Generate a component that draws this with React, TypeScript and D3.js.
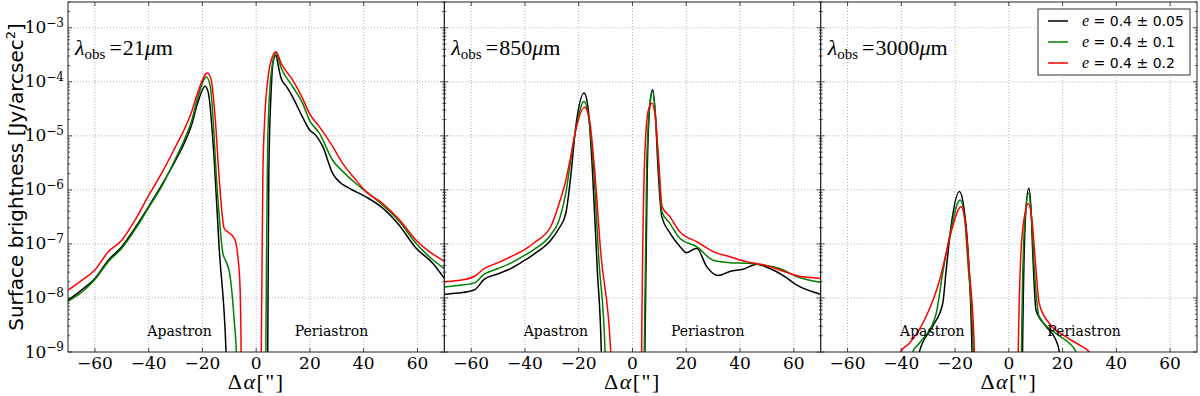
import * as d3 from "d3";

type Pt = [number, number];

// axis ticks and labels
const xTickValues = [-60, -40, -20, 0, 20, 40, 60];
const yDecades = [-9, -8, -7, -6, -5, -4, -3];
const wavelengths = ["21", "850", "3000"];
const spreadLabels = ["0.05", "0.1", "0.2"];
const lineColors = ["#000000", "#008000", "#ff0000"];
const regionLabels: [string, number][] = [["Apastron", -28.5], ["Periastron", 28]];

// lambda = 21 micron
const sb21Black: Pt[] = [
  [-70, 9.1e-9], [-65, 1.4e-8], [-60, 2.3e-8], [-55, 5.0e-8], [-50, 8.9e-8], [-45, 2.0e-7],
  [-40, 4.9e-7], [-35, 1.26e-6], [-30, 3.5e-6], [-26.8, 7.2e-6], [-24, 1.6e-5], [-21.8, 4.0e-5],
  [-19, 8.3e-5], [-17.8, 6.3e-5], [-15.6, 3.5e-6], [-13.8, 8.9e-8], [-11.2, 1e-9], [-10, 1e-11],
  [3.9, 1e-11], [4.3, 1e-9], [4.7, 2.0e-6], [5.6, 7.1e-5], [6.4, 2.5e-4], [7.4, 3.1e-4],
  [8.2, 2.0e-4], [9.3, 1.15e-4], [11.5, 7.9e-5], [13.6, 5.2e-5], [17.3, 2.2e-5], [19.8, 1.3e-5],
  [22.2, 1.02e-5], [24.8, 6.3e-6], [28.5, 2.0e-6], [31, 1.4e-6], [34.7, 1.07e-6], [40.9, 7.4e-7],
  [47.1, 4.6e-7], [53.3, 2.2e-7], [59.5, 8.3e-8], [65.7, 4.4e-8], [70, 2.3e-8],
];
const sb21Green: Pt[] = [
  [-70, 8.7e-9], [-65, 1.26e-8], [-60, 2.2e-8], [-55, 4.7e-8], [-50, 8.3e-8], [-45, 1.86e-7],
  [-40, 4.7e-7], [-35, 1.2e-6], [-30, 3.8e-6], [-26.8, 8.3e-6], [-24, 1.9e-5], [-21.8, 5.0e-5],
  [-18.5, 1.23e-4], [-17, 7.9e-5], [-14.4, 8.7e-7], [-12.4, 6.8e-8], [-11, 4.5e-8], [-9.9, 2.9e-8],
  [-8.1, 3.5e-9], [-7.4, 1e-9], [-7.1, 1e-11],
  [3.3, 1e-11], [3.6, 1e-9], [3.9, 1.17e-7], [4.3, 8.3e-6], [5.6, 1.45e-4], [7.4, 3.4e-4],
  [9.3, 1.8e-4], [13.6, 8.1e-5], [17.3, 4.0e-5], [19.8, 1.95e-5], [23.5, 1.12e-5], [28.5, 3.5e-6],
  [32.2, 2.2e-6], [37.2, 1.3e-6], [40.9, 9.3e-7], [47.1, 5.2e-7], [53.3, 2.6e-7], [59.5, 1.02e-7],
  [64.4, 5.8e-8], [70, 3.5e-8],
];
const sb21Red: Pt[] = [
  [-70, 1.4e-8], [-65, 2.1e-8], [-60, 3.3e-8], [-55, 7.2e-8], [-50, 1.17e-7], [-45, 2.8e-7],
  [-40, 7.9e-7], [-35, 2.1e-6], [-30, 6.3e-6], [-26.8, 1.3e-5], [-24, 2.8e-5], [-21.8, 6.2e-5],
  [-18.1, 1.45e-4], [-16.8, 1.12e-4], [-15.2, 2.0e-5], [-13.8, 1.74e-6], [-11.9, 1.95e-7],
  [-10.5, 1.66e-7], [-8.1, 1.26e-7], [-6.8, 5.8e-8], [-6.0, 1.6e-8], [-5.6, 1e-9], [-5.3, 1e-11],
  [1.6, 1e-11], [1.9, 1e-9], [2.5, 2.0e-6], [3.1, 1.7e-5], [4.3, 1.07e-4], [5.6, 2.5e-4],
  [7.4, 3.6e-4], [9.3, 2.2e-4], [13.6, 1.07e-4], [17.3, 4.9e-5], [19.8, 2.6e-5], [23.5, 1.48e-5],
  [28.5, 6.3e-6], [32.2, 3.1e-6], [37.2, 1.5e-6], [40.9, 9.3e-7], [47.1, 5.6e-7], [53.3, 2.8e-7],
  [59.5, 1.17e-7], [64.4, 7.2e-8], [70, 4.8e-8],
];

// lambda = 850 micron
const sb850Black: Pt[] = [
  [-70, 1.17e-8], [-65, 1.23e-8], [-58.9, 1.4e-8], [-55.2, 2.2e-8], [-50, 2.8e-8], [-45.3, 3.5e-8],
  [-40, 5.0e-8], [-36.6, 6.5e-8], [-30.4, 1.17e-7], [-27.3, 1.95e-7], [-24.8, 3.7e-7],
  [-23, 1.74e-6], [-21.1, 1.48e-5], [-18, 6.2e-5], [-16.5, 3.2e-5], [-14.9, 2.3e-6],
  [-13.1, 3.3e-8], [-11.6, 1e-9], [-11, 1e-11],
  [4.2, 1e-11], [4.6, 1e-9], [5.5, 2.3e-6], [6.5, 4.0e-5], [7.5, 7.2e-5], [8.5, 2.5e-5],
  [9.5, 2.5e-6], [10.9, 3.2e-7], [13.9, 1.6e-7], [17.7, 8.9e-8], [20.1, 6.9e-8], [23.9, 8.3e-8],
  [27.6, 3.8e-8], [31.9, 2.6e-8], [36.2, 3.1e-8], [41.2, 3.4e-8], [46.2, 4.2e-8], [51.1, 3.5e-8],
  [56.1, 2.6e-8], [61, 1.74e-8], [70, 1.17e-8],
];
const sb850Green: Pt[] = [
  [-70, 1.6e-8], [-65, 1.7e-8], [-58.9, 1.9e-8], [-55.2, 2.75e-8], [-50, 3.5e-8], [-45.3, 4.4e-8],
  [-40, 6.2e-8], [-36.6, 7.9e-8], [-30.4, 1.48e-7], [-27.3, 2.75e-7], [-24.8, 8.7e-7],
  [-23, 3.5e-6], [-21.1, 1.3e-5], [-18.1, 4.3e-5], [-16.5, 2.5e-5], [-14.5, 2.5e-6],
  [-12.5, 5.0e-8], [-10.2, 1e-9], [-9.7, 1e-11],
  [4.0, 1e-11], [4.4, 1e-9], [5.3, 3.2e-6], [6.5, 4.0e-5], [7.5, 6.6e-5], [8.5, 2.5e-5],
  [9.6, 3.2e-6], [10.9, 4.0e-7], [13.9, 2.4e-7], [17.7, 1.26e-7], [23.9, 8.9e-8], [30, 5.0e-8],
  [36.2, 4.5e-8], [42.5, 4.4e-8], [48.6, 4.1e-8], [54.8, 3.5e-8], [61, 2.5e-8], [70, 1.95e-8],
];
const sb850Red: Pt[] = [
  [-70, 2.0e-8], [-65, 2.1e-8], [-58.9, 2.5e-8], [-55.2, 3.5e-8], [-50, 4.5e-8], [-45.3, 5.8e-8],
  [-40, 7.9e-8], [-36.6, 1.05e-7], [-30.4, 2.1e-7], [-27.3, 5.6e-7], [-24.8, 1.5e-6],
  [-23, 4.1e-6], [-21.1, 1.3e-5], [-17.8, 3.4e-5], [-16, 2.0e-5], [-14.3, 3.1e-6],
  [-11.8, 6.8e-8], [-8.1, 1e-9], [-7.8, 1e-11],
  [3.1, 1e-11], [3.4, 1e-9], [4.6, 4.8e-6], [5.9, 3.0e-5], [7.2, 4.0e-5], [8.5, 2.2e-5],
  [9.8, 3.2e-6], [11, 4.9e-7], [13.9, 3.2e-7], [17.7, 1.66e-7], [23.9, 1.1e-7], [30, 7.2e-8],
  [36.2, 5.8e-8], [42.5, 4.7e-8], [48.6, 4.1e-8], [54.8, 3.3e-8], [61, 2.6e-8], [70, 2.3e-8],
];

// lambda = 3000 micron
const sb3000Black: Pt[] = [
  [-35, 1e-11], [-33.3, 1e-9], [-28.3, 3.0e-9], [-24.6, 7.9e-9], [-23.3, 3.3e-8], [-21.5, 2.1e-7],
  [-18.4, 9.3e-7], [-16.8, 5.0e-7], [-15.3, 8.9e-8], [-13.7, 1e-9], [-13, 1e-11],
  [4.7, 1e-11], [5.1, 1e-9], [6.2, 3.2e-7], [7.4, 1.07e-6], [8.3, 4.0e-7], [8.9, 6.8e-8],
  [10.1, 6.0e-9], [13.8, 3.0e-9], [17.5, 1.66e-9], [18.8, 1e-9], [19.5, 1e-11],
];
const sb3000Green: Pt[] = [
  [-38, 1e-11], [-35.8, 1e-9], [-33.3, 1.45e-9], [-27.1, 5.0e-9], [-24.6, 2.9e-8], [-22.1, 1.35e-7],
  [-18.1, 6.5e-7], [-16.5, 3.2e-7], [-15.3, 5.0e-8], [-13.2, 1e-9], [-12.5, 1e-11],
  [4.3, 1e-11], [4.7, 1e-9], [5.9, 2.5e-7], [7.4, 8.7e-7], [8.4, 3.2e-7], [9.5, 3.3e-8],
  [11.3, 4.5e-9], [17.5, 2.2e-9], [22.5, 1.45e-9], [25, 1e-9], [26, 1e-11],
];
const sb3000Red: Pt[] = [
  [-42, 1e-11], [-40.3, 1e-9], [-37, 1.45e-9], [-30.8, 4.5e-9], [-25.8, 2.1e-8], [-23.3, 6.8e-8],
  [-20.9, 2.1e-7], [-17.8, 4.9e-7], [-16.2, 2.5e-7], [-14.7, 3.3e-8], [-12.8, 1e-9], [-12, 1e-11],
  [3.0, 1e-11], [3.5, 1e-9], [4.5, 6.8e-8], [5.8, 3.2e-7], [7.3, 5.6e-7], [8.7, 2.5e-7],
  [10.1, 3.3e-8], [11.3, 7.9e-9], [15, 3.4e-9], [21.3, 1.9e-9], [26.2, 1.35e-9], [29.9, 1e-9],
  [31, 1e-11],
];

const panels = [
  [sb21Black, sb21Green, sb21Red],
  [sb850Black, sb850Green, sb850Red],
  [sb3000Black, sb3000Green, sb3000Red],
];

const SERIF = "'DejaVu Serif', serif";
const SANS = "'DejaVu Sans', sans-serif";
const MATH = "'Liberation Serif', 'DejaVu Serif', serif";

export default function App() {
  const width = 1200;
  const height = 396;
  const margin = { top: 2, right: 3, bottom: 44, left: 68 };
  const panelW = (width - margin.left - margin.right) / 3;
  const y0 = height - margin.bottom;

  const y = d3.scaleLog().domain([1e-9, 3e-3]).range([y0, margin.top]);
  const majors = yDecades.map((e) => Math.pow(10, e));
  const minors: number[] = [];
  yDecades.forEach((e) => {
    for (let k = 2; k <= 9; k++) {
      const v = k * Math.pow(10, e);
      if (v <= 3e-3) minors.push(v);
    }
  });

  return (
    <svg
      width={width}
      height={height}
      style={{ position: "absolute", left: 0, top: 0, background: "#fff" }}
    >
      <defs>
        {panels.map((_, i) => (
          <clipPath id={`clip${i}`} key={i}>
            <rect x={margin.left + i * panelW} y={margin.top} width={panelW} height={y0 - margin.top} />
          </clipPath>
        ))}
      </defs>

      {panels.map((series, i) => {
        const x0 = margin.left + i * panelW;
        const x = d3.scaleLinear().domain([-70, 70]).range([x0, x0 + panelW]);
        const line = d3
          .line<Pt>()
          .x((d) => x(d[0]))
          .y((d) => y(d[1]))
          .curve(d3.curveMonotoneX);
        return (
          <g key={i}>
            {/* grid */}
            <g stroke="#9a9a9a" strokeWidth={0.8} strokeDasharray="1,2">
              {xTickValues.map((t) => (
                <line key={`gx${t}`} x1={x(t)} x2={x(t)} y1={margin.top} y2={y0} />
              ))}
              {majors.slice(1).map((v) => (
                <line key={`gy${v}`} x1={x0} x2={x0 + panelW} y1={y(v)} y2={y(v)} />
              ))}
            </g>

            {/* curves */}
            <g clipPath={`url(#clip${i})`} fill="none" strokeWidth={1.5}>
              {series.map((s, j) => (
                <path key={j} d={line(s) ?? ""} stroke={lineColors[j]} />
              ))}
            </g>

            {/* ticks */}
            <g stroke="#222" strokeWidth={0.8}>
              {xTickValues.map((t) => (
                <g key={`tx${t}`}>
                  <line x1={x(t)} x2={x(t)} y1={y0} y2={y0 - 4} />
                  <line x1={x(t)} x2={x(t)} y1={margin.top} y2={margin.top + 4} />
                </g>
              ))}
              {majors.map((v) => (
                <g key={`ty${v}`}>
                  <line x1={x0} x2={x0 + 4} y1={y(v)} y2={y(v)} />
                  <line x1={x0 + panelW} x2={x0 + panelW - 4} y1={y(v)} y2={y(v)} />
                </g>
              ))}
              {minors.map((v) => (
                <g key={`tm${v}`}>
                  <line x1={x0} x2={x0 + 2} y1={y(v)} y2={y(v)} />
                  <line x1={x0 + panelW} x2={x0 + panelW - 2} y1={y(v)} y2={y(v)} />
                </g>
              ))}
            </g>

            {/* frame */}
            <rect
              x={x0}
              y={margin.top}
              width={panelW}
              height={y0 - margin.top}
              fill="none"
              stroke="#222"
              strokeWidth={1}
            />

            {/* x tick labels */}
            {xTickValues.map((t) => (
              <text
                key={`lx${t}`}
                x={x(t)}
                y={y0 + 16.5}
                textAnchor="middle"
                fontFamily={SERIF}
                fontSize={17}
                fill="#000"
              >
                {t < 0 ? `\u2212${-t}` : t}
              </text>
            ))}

            {/* x axis title */}
            <text
              x={x0 + panelW / 2}
              y={389}
              textAnchor="middle"
              fontFamily={MATH}
              fontSize={22}
              letterSpacing={1.5}
              fill="#000"
            >
              Δ<tspan fontStyle="italic">α</tspan>["]
            </text>

            {/* wavelength label */}
            <text x={x0 + 7} y={55} fontFamily={MATH} fontSize={22} fill="#000">
              <tspan fontStyle="italic">λ</tspan>
              <tspan fontSize={15} dy={4}>obs</tspan>
              <tspan dy={-4} dx={4}>=</tspan>
              <tspan dx={1}>{wavelengths[i]}</tspan>
              <tspan fontStyle="italic">μ</tspan>
              <tspan>m</tspan>
            </text>

            {/* region labels */}
            {regionLabels.map(([txt, at]) => (
              <text
                key={txt}
                x={x(at)}
                y={336}
                textAnchor="middle"
                fontFamily={SERIF}
                fontSize={14}
                fill="#000"
              >
                {txt}
              </text>
            ))}
          </g>
        );
      })}

      {/* y tick labels */}
      {majors.map((v, k) => (
        <text
          key={`ly${v}`}
          x={64}
          y={y(v) + 5.5}
          textAnchor="end"
          fontFamily={SERIF}
          fontSize={17}
          fill="#000"
        >
          10<tspan fontSize={12} dy={-6.5}>{`\u2212${-yDecades[k]}`}</tspan>
        </text>
      ))}

      {/* y axis title */}
      <text
        transform={`translate(23,${(margin.top + y0) / 2}) rotate(-90)`}
        textAnchor="middle"
        fontFamily={SANS}
        fontSize={20}
        fill="#000"
      >
        Surface brightness [Jy/arcsec<tspan fontSize={13} dy={-8}>2</tspan>
        <tspan dy={8}>]</tspan>
      </text>

      {/* legend */}
      <g>
        <rect x={1038} y={9} width={152} height={66} fill="#fff" stroke="#333" strokeWidth={1} />
        {spreadLabels.map((lab, j) => (
          <g key={lab} transform={`translate(1048,${21 + j * 21})`}>
            <line x1={0} x2={20} y1={0} y2={0} stroke={lineColors[j]} strokeWidth={1.5} />
            <text x={34} y={5} fontFamily={SANS} fontSize={14} fill="#000">
              <tspan fontFamily={MATH} fontStyle="italic" fontSize={16}>e</tspan> = 0.4 ± {lab}
            </text>
          </g>
        ))}
      </g>
    </svg>
  );
}
